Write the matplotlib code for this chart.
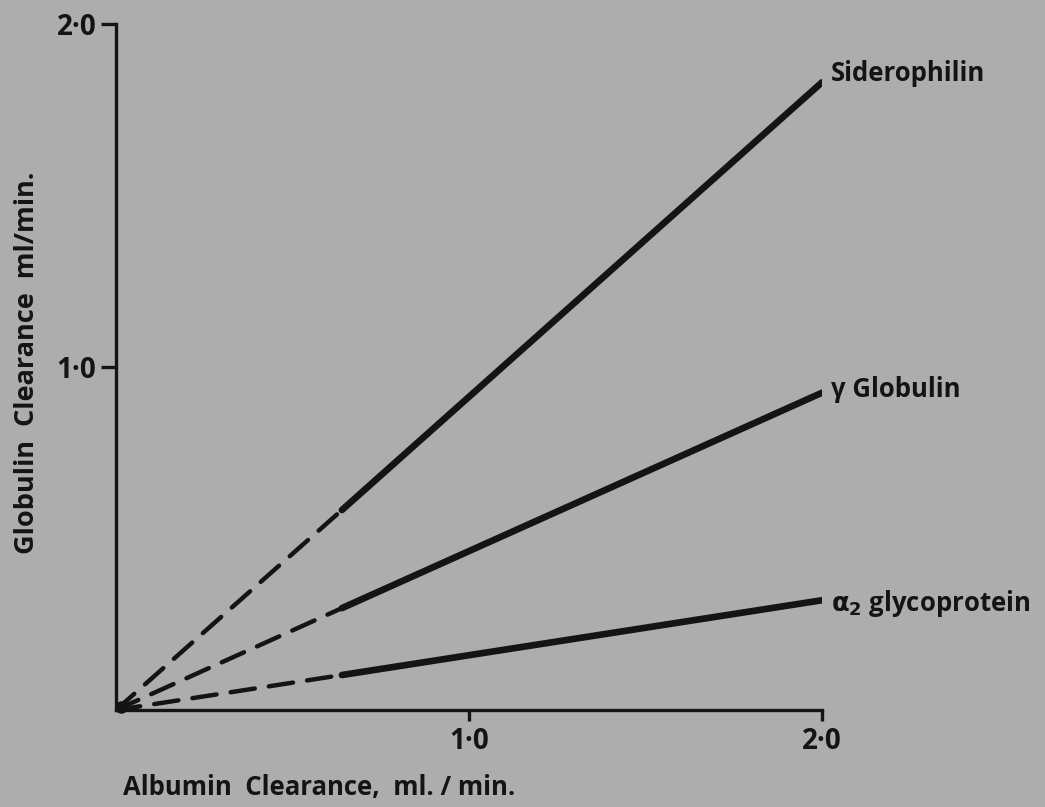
import matplotlib
matplotlib.use("Agg")
import matplotlib.pyplot as plt

# ---- data ----
series_names = ["Siderophilin", "γ Globulin", r"$\mathbf{\alpha_2}$ glycoprotein"]
x_points = [0.0, 0.64, 2.0]            # origin, start of solid part, end
y_sidero = [0.0, 0.583, 1.83]
y_globulin = [0.0, 0.297, 0.925]
y_alpha2 = [0.0, 0.102, 0.32]
x_ticks = [1.0, 2.0]
x_tick_labels = ["1·0", "2·0"]
y_ticks = [1.0, 2.0]
y_tick_labels = ["1·0", "2·0"]

bg = "#adadad"
ink = "#141414"
font = ["Open Sans", "DejaVu Sans"]

fig = plt.figure(figsize=(10.45, 8.07), dpi=100, facecolor=bg)
ax = fig.add_axes([116 / 1045, 1 - 710 / 807, 706 / 1045, (710 - 24) / 807])
ax.set_facecolor(bg)

for ys in (y_sidero, y_globulin, y_alpha2):
    ax.plot(x_points[:2], ys[:2], color=ink, lw=3.2, ls=(0, (5.5, 3.2)),
            solid_capstyle="butt", dash_capstyle="round")
    ax.plot(x_points[1:], ys[1:], color=ink, lw=4.8, solid_capstyle="round")

ax.plot([0.015], [0.008], marker="o", ms=8, color=ink, clip_on=False)

ax.set_xlim(0, 2.0)
ax.set_ylim(0, 2.0)
for s in ("top", "right"):
    ax.spines[s].set_visible(False)
for s in ("left", "bottom"):
    ax.spines[s].set_linewidth(2.4)
    ax.spines[s].set_color(ink)

ax.set_xticks(x_ticks)
ax.set_xticklabels(x_tick_labels, fontsize=20, fontweight="bold", family=font, color=ink)
ax.set_yticks(y_ticks)
ax.set_yticklabels(y_tick_labels, fontsize=20, fontweight="bold", family=font, color=ink)
ax.tick_params(axis="x", direction="out", length=8, width=2.4, color=ink, pad=4)
ax.tick_params(axis="y", direction="out", length=11, width=2.4, color=ink, pad=3)

# series labels at line ends
label_y = [y_sidero[-1], y_globulin[-1], y_alpha2[-1]]
offsets = [0.025, 0.01, -0.01]
for name, yv, off in zip(series_names, label_y, offsets):
    ax.text(2.025, yv + off, name, fontsize=18.5, fontweight="bold", family=font,
            color=ink, va="center", ha="left", clip_on=False)

fig.text(123 / 1045, 1 - 788 / 807, "Albumin  Clearance,  ml. / min.", fontsize=18.5,
         fontweight="bold", family=font, color=ink, ha="left", va="center")
fig.text(27 / 1045, 1 - 363 / 807, "Globulin  Clearance  ml/min.", fontsize=19.5,
         fontweight="bold", family=font, color=ink, ha="center", va="center",
         rotation=90)

fig.savefig("out.png", dpi=100, facecolor=bg)
